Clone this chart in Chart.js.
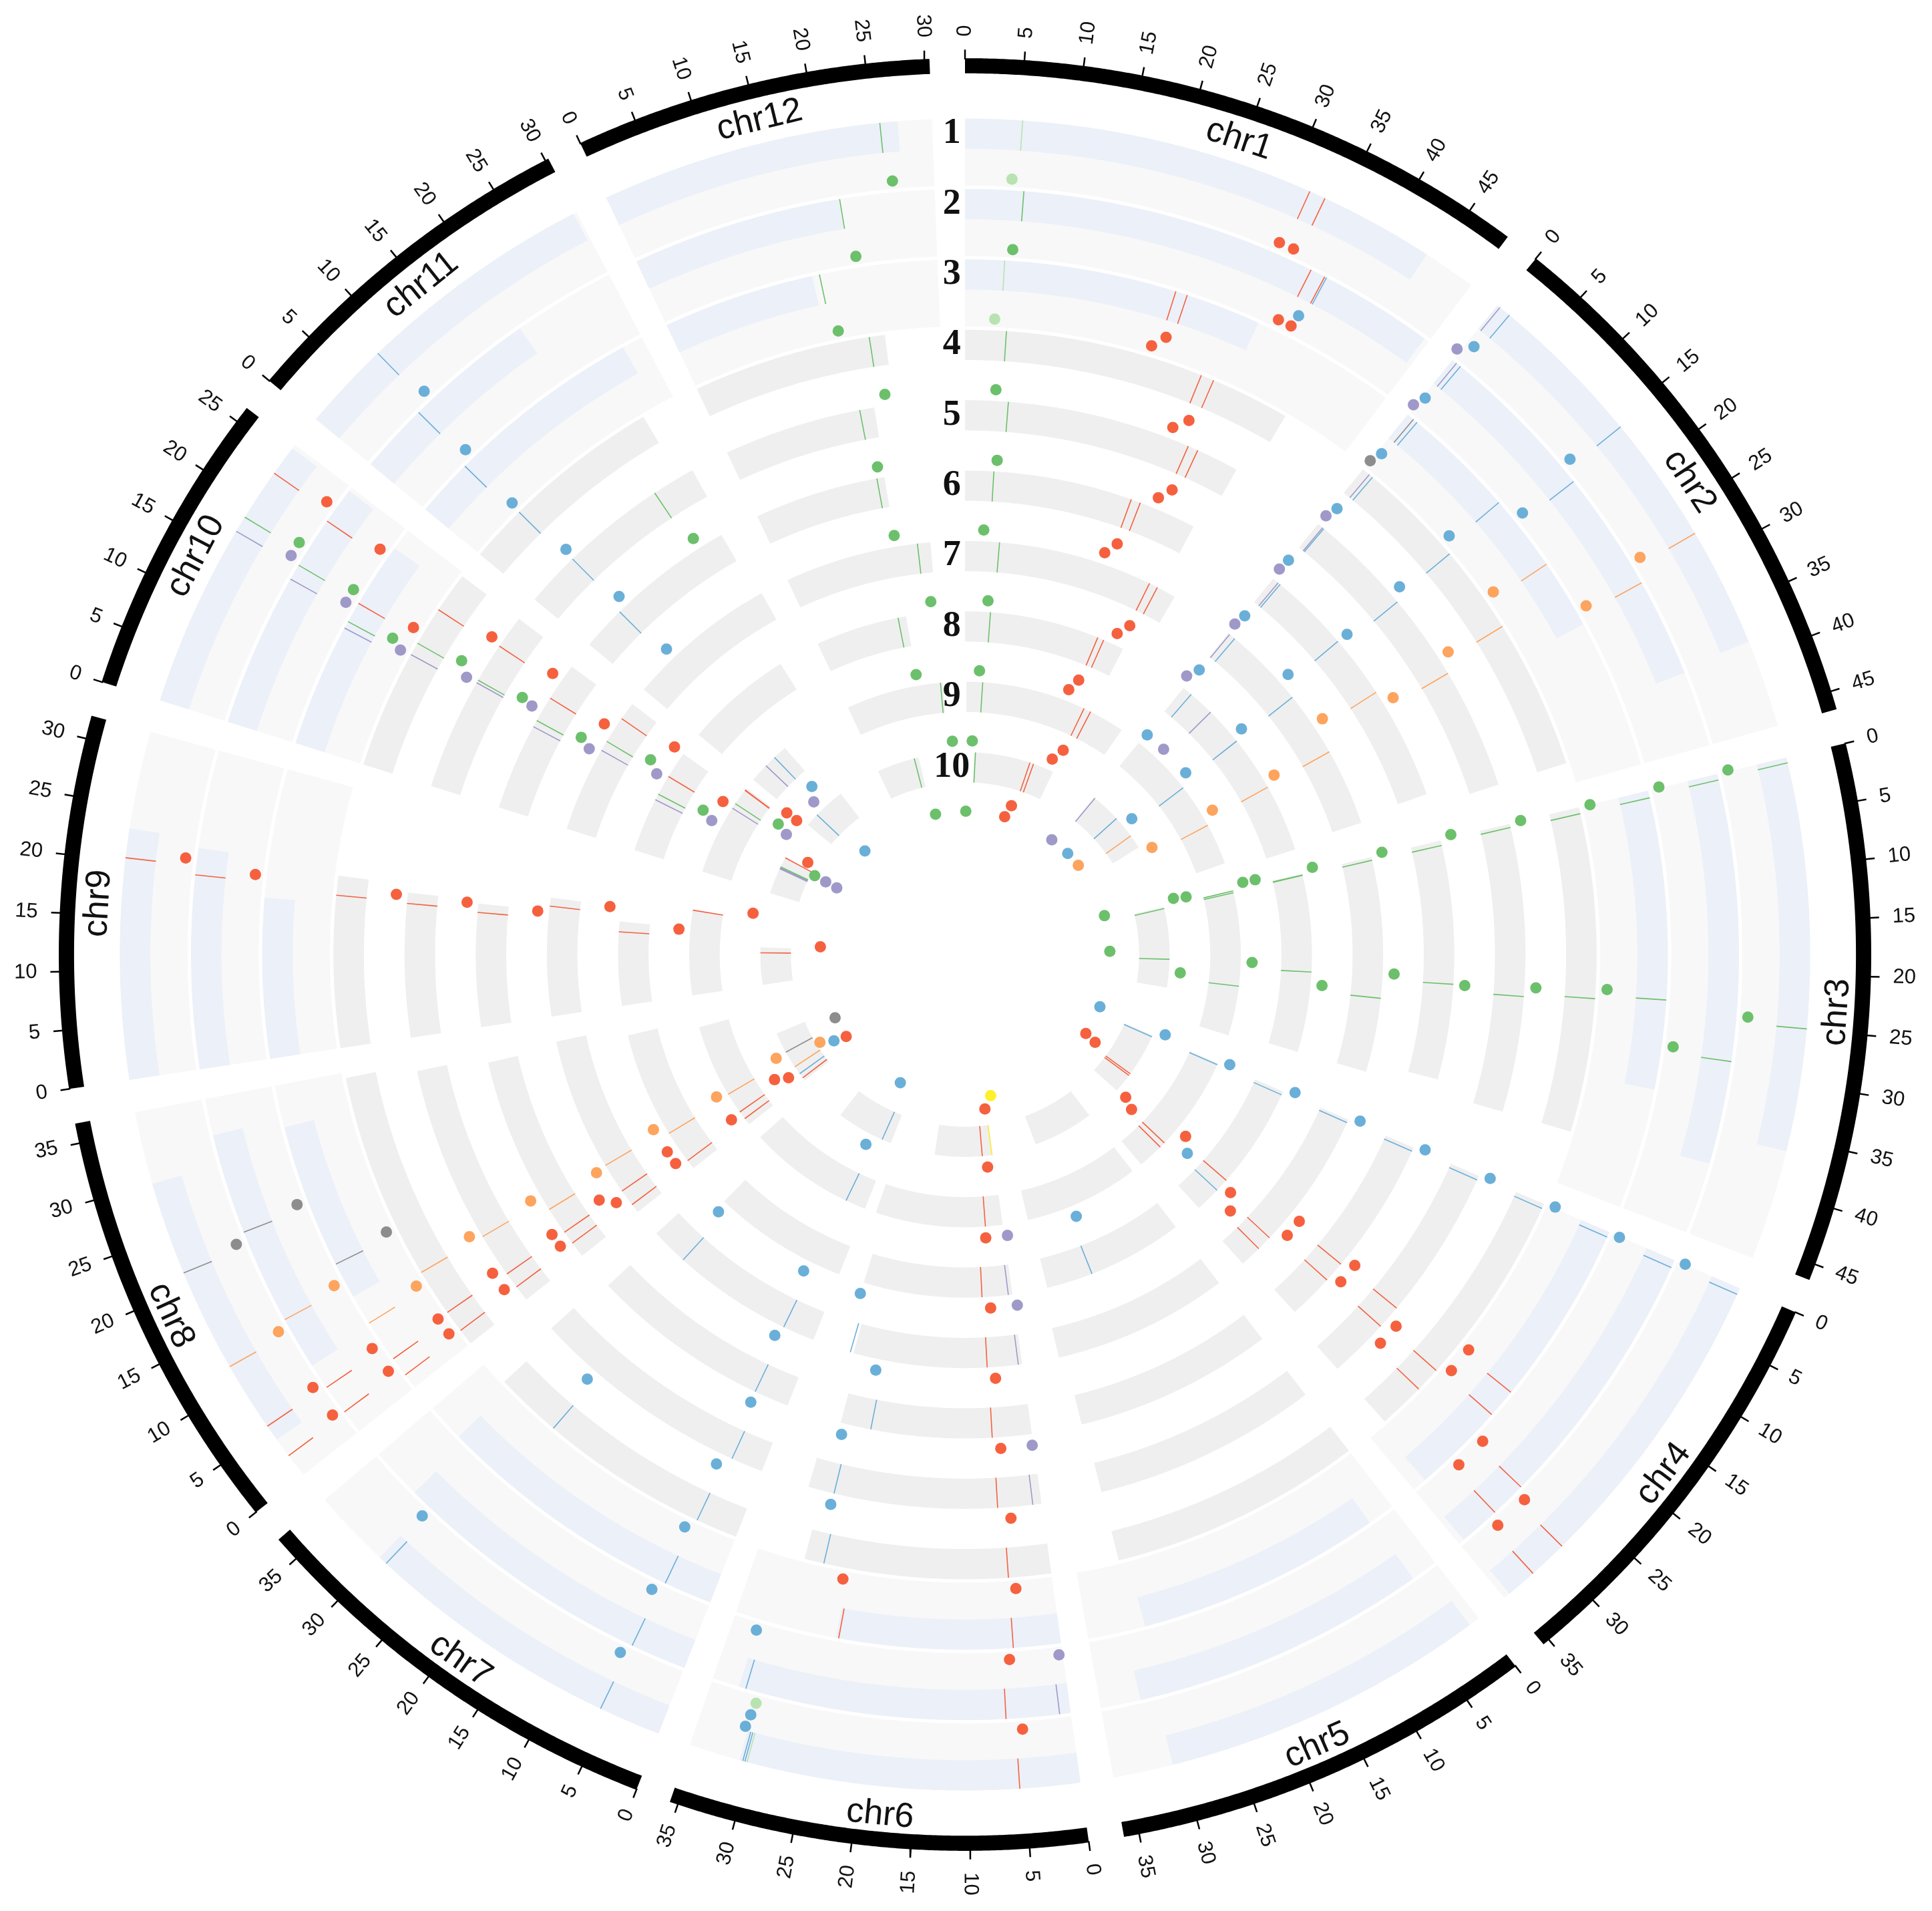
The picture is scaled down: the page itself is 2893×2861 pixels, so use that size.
<!DOCTYPE html>
<html>
<head>
<meta charset="utf-8">
<script src="https://cdn.jsdelivr.net/npm/chart.js@4.4.0/dist/chart.umd.min.js"></script>
<style>
  html, body { margin: 0; padding: 0; background: #ffffff; }
  canvas { display: block; }
</style>
</head>
<body>
<canvas id="circos" width="2893" height="2861"></canvas>
<script>
// ---- Data ----
const chromNames = ['chr1','chr2','chr3','chr4','chr5','chr6','chr7','chr8','chr9','chr10','chr11','chr12'];
const chromLengths = [48.9, 46.6, 46.4, 35.6, 36.3, 35.7, 37.2, 36.7, 32.0, 26.4, 30.3, 30.4];
const trackLabels = ['1','2','3','4','5','6','7','8','9','10'];
const tickStep = 5;

// band extent [start, end] for tracks 1..10
const chr1Bands  = [[0,44],[0,48.4],[0,32.8],[0,40.5],[0,38.5],[0,37],[0,40],[0,36],[0.4,46],[3.5,33.9]];
const chr2Bands  = [[0,38.5],[0,39],[0,30],[0,44],[0,44],[0,42],[0,43],[0,44],[0,41.7],[0,25.3]];
const chr3Bands  = [[0,36.2],[0,39.2],[0,33],[0,40],[0,40],[0,38],[0,40],[0,40],[0,41],[0,30.6]];
const chr4Bands  = [[0,35],[0,35],[0,34],[0,33],[0,33],[0,32],[0,33],[0,32],[0,35.6],[0,24.8]];
const chr5Bands  = [[1,30.8],[2.7,32.3],[3,30],[0,31],[0,31],[0,31.4],[0,32.5],[0,31.5],[0,32.2],[0,22.9]];
const chr6Bands  = [[0,31],[0,33],[0,24.5],[0,30],[0,32],[0,30],[0,31],[0,33],[0,35.5],[0,21.8]];
const chr7Bands  = [[0,30],[0,32],[0,33],[0,34],[0,35],[0,34],[0,35],[0,30.2],[0,35.5],[0,21.6]];
const chr8Bands  = [[4,30],[8,33],[12,32],[0,36],[0,35],[0,34],[0,35],[0,33],[0,30.6],[0,20.6]];
const chr9Bands  = [[0,23],[0,22.1],[0,17.7],[0,21.1],[0,20],[0,19.5],[0,22],[0,18.8],[0,24],[0,14.2]];
const chr10Bands = [[0,26],[0,26],[0,24],[0,26],[0,26],[0,25],[0,26],[0,24],[0,26.4],[0,14.8]];
const chr11Bands = [[0,30],[0,20],[0,28],[0,26],[0,28],[0,27],[0,28],[0,24],[0,12.5],[0,17]];
const chr12Bands = [[0,27.3],[0,20.9],[0,16.7],[0,23.7],[0,21],[0,20.8],[0,27.1],[0,20.4],[0,27.2],[0,16.0]];

// markers: [track, position, colour key]
const chr1Marks = [
  [1,5.2,'LG'],[1,32.0,'R'],[1,33.5,'R'],
  [2,5.8,'G'],[2,35.3,'R'],[2,36.8,'R'],[2,37.0,'B'],
  [3,4.3,'LG'],[3,23.2,'R'],[3,24.5,'R'],
  [4,5.0,'G'],[4,29.2,'R'],[4,30.8,'R'],
  [5,5.9,'G'],[5,31.2,'R'],[5,32.6,'R'],
  [6,4.5,'G'],[6,26.4,'R'],[6,27.9,'R'],
  [7,6.3,'G'],[7,34.8,'R'],[7,36.4,'R'],
  [8,5.6,'G'],[8,29.9,'R'],[8,31.3,'R'],
  [9,4.9,'G'],[9,34.0,'R'],[9,36.0,'R'],
  [10,3.9,'G'],[10,24.6,'R'],[10,26.0,'R']
];
const chr2Marks = [
  [1,0.3,'P'],[1,1.4,'B'],[1,15.7,'B'],[1,27.5,'O'],
  [2,0.5,'P'],[2,1.0,'B'],[2,17.0,'B'],[2,29.1,'O'],
  [3,0.8,'K'],[3,1.3,'B'],[3,13.8,'B'],[3,22.3,'O'],
  [4,1.0,'P'],[4,1.5,'B'],[4,14.7,'B'],[4,25.6,'O'],
  [5,0.8,'P'],[5,1.0,'B'],[5,15.2,'B'],[5,27.2,'O'],
  [6,1.0,'P'],[6,1.4,'B'],[6,14.1,'B'],[6,24.1,'O'],
  [7,0.3,'P'],[7,1.5,'B'],[7,16.6,'B'],[7,28.7,'O'],
  [8,2.2,'B'],[8,8.0,'P'],[8,16.6,'B'],[8,28.9,'O'],
  [9,17.6,'B'],[9,30.1,'O'],
  [10,0.5,'P'],[10,11.6,'B'],[10,20.0,'O']
];
const chr3Marks = [
  [1,0.5,'G'],[1,24.9,'G'],
  [2,0.6,'G'],[2,28.8,'G'],
  [3,0.8,'G'],[3,23.1,'G'],
  [4,0.8,'G'],[4,23.5,'G'],
  [5,0.5,'G'],[5,23.9,'G'],
  [6,0.8,'G'],[6,22.8,'G'],
  [7,0.6,'G'],[7,26.2,'G'],
  [8,0.3,'G'],[8,0.4,'G'],[8,22.0,'G'],
  [9,0.2,'G'],[9,0.7,'G'],[9,27.0,'G'],
  [10,0.7,'G'],[10,19.9,'G']
];
const chr4Marks = [
  [1,0.6,'B'],[1,28.6,'R'],[1,32.2,'R'],
  [2,0.8,'B'],[2,27.3,'R'],[2,30.9,'R'],
  [3,0.6,'B'],[3,20.6,'R'],[3,23.8,'R'],
  [4,0.6,'B'],[4,24.2,'R'],[4,27.3,'R'],
  [5,0.6,'B'],[5,21.4,'R'],[5,24.7,'R'],
  [6,0.6,'B'],[6,21.6,'R'],[6,24.9,'R'],
  [7,0.6,'B'],[7,26.2,'R'],[7,29.0,'R'],
  [8,0.8,'B'],[8,23.4,'R'],[8,26.4,'B'],
  [9,0.4,'B'],[9,26.8,'R'],[9,28.4,'R'],
  [10,0.6,'B'],[10,16.7,'R'],[10,17.5,'R']
];
const chr5Marks = [
  [8,21.2,'B']
];
const chr6Marks = [
  [1,5.5,'R'],[1,30.3,'LG'],[1,30.5,'B'],[1,30.7,'B'],
  [2,1.1,'P'],[2,6.4,'R'],[2,32.3,'B'],
  [3,5.2,'R'],[3,24.2,'R'],
  [4,5.2,'R'],[4,27.6,'B'],
  [5,1.2,'P'],[5,6.0,'R'],[5,28.4,'B'],
  [6,6.2,'R'],[6,25.2,'B'],
  [7,0.7,'P'],[7,6.4,'R'],[7,31.6,'B'],
  [8,0.9,'P'],[8,6.7,'R'],
  [9,4.8,'R'],
  [10,0.4,'Y'],[10,4.0,'R']
];
const chr7Marks = [
  [1,5.7,'B'],[1,29.2,'B'],
  [2,5.6,'B'],
  [3,5.3,'B'],
  [4,5.1,'B'],[4,25.8,'B'],
  [5,4.4,'B'],
  [6,5.5,'B'],
  [7,5.9,'B'],[7,28.1,'B'],
  [9,5.7,'B'],
  [10,3.5,'B']
];
const chr8Marks = [
  [1,2.2,'R'],[1,5.5,'R'],[1,11.9,'O'],[1,21.4,'K'],
  [2,2.4,'R'],[2,5.4,'R'],[2,13.3,'O'],[2,22.9,'K'],
  [3,1.7,'R'],[3,3.9,'R'],[3,8.6,'O'],[3,16.0,'K'],
  [4,2.0,'R'],[4,4.7,'R'],[4,10.5,'O'],
  [5,2.2,'R'],[5,4.4,'R'],[5,10.5,'O'],
  [6,2.5,'R'],[6,4.6,'R'],[6,8.9,'O'],
  [7,1.7,'R'],[7,4.8,'R'],[7,10.4,'O'],
  [8,2.1,'R'],[8,9.4,'O'],
  [9,2.0,'R'],[9,4.3,'R'],[9,10.2,'O'],
  [10,1.3,'R'],[10,3.2,'B'],[10,6.4,'O'],[10,12.8,'K']
];
const chr9Marks = [
  [1,20.3,'R'],[2,19.4,'R'],[4,18.7,'R'],[5,18.5,'R'],[6,18.1,'R'],
  [7,20.4,'R'],[8,16.5,'R'],[9,23.9,'R'],[10,12.1,'R']
];
const chr10Marks = [
  [1,16.9,'P'],[1,18.4,'G'],[1,23.2,'R'],
  [2,15.5,'P'],[2,17.1,'G'],[2,22.3,'R'],
  [3,13.7,'P'],[3,14.5,'G'],[3,16.8,'R'],
  [4,14.6,'P'],[4,16.2,'G'],[4,21.0,'R'],
  [5,15.5,'P'],[5,15.9,'G'],[5,21.4,'R'],
  [6,13.8,'P'],[6,14.9,'G'],[6,19.0,'R'],
  [7,15.8,'P'],[7,17.7,'G'],[7,22.7,'R'],
  [8,12.1,'P'],[8,13.5,'G'],[8,18.0,'R'],
  [9,19.6,'P'],[9,21.1,'G'],[9,25.7,'R'],[9,25.8,'R'],
  [10,9.8,'P'],[10,10.2,'P'],[10,10.6,'G'],[10,14.4,'R']
];
const chr11Marks = [
  [1,8.2,'B'],[2,7.0,'B'],[3,6.4,'B'],[4,7.0,'B'],[5,7.6,'B'],[5,22.0,'G'],[6,7.0,'B'],
  [9,5.3,'P'],[9,8.6,'B'],[10,5.1,'B']
];
const chr12Marks = [
  [1,25.7,'G'],[2,21.0,'G'],[3,17.5,'G'],[4,21.8,'G'],[5,19.0,'G'],
  [6,19.6,'G'],[7,24.7,'G'],[8,18.6,'G'],[9,26.6,'G'],[10,14.3,'G']
];

const chromBands = [chr1Bands, chr2Bands, chr3Bands, chr4Bands, chr5Bands, chr6Bands,
                    chr7Bands, chr8Bands, chr9Bands, chr10Bands, chr11Bands, chr12Bands];
const chromMarks = [chr1Marks, chr2Marks, chr3Marks, chr4Marks, chr5Marks, chr6Marks,
                    chr7Marks, chr8Marks, chr9Marks, chr10Marks, chr11Marks, chr12Marks];

const markColors = {
  R: '#f5613f', G: '#6cc06b', LG: '#b8e3b0', B: '#6aafd8',
  P: '#9f99c9', O: '#fda45e', K: '#8d8d8d', Y: '#fff02e'
};

// ---- Geometry ----
const VIEW = 2893, CX = 1445, CY = 1445;
const GAP_DEG = 2.25;
const RING_OUTER = 1273, RING_STEP = 107.2, BAND_W = 46, BG_W = 102;
const IDEO_IN = 1342, IDEO_OUT = 1365;
const DOT_INSET = 90, DOT_SEP = 20, DOT_STEP = 19, DOT_SHIFT = 10;

const totalLen = chromLengths.reduce((a, b) => a + b, 0);
const degPerMb = (360 - GAP_DEG * chromLengths.length) / totalLen;
const chromStart = [];
let acc = 0;
chromLengths.forEach(l => { chromStart.push(acc); acc += l * degPerMb + GAP_DEG; });

function ang(ci, pos) { return (chromStart[ci] + pos * degPerMb) * Math.PI / 180; }
function polar(r, a) { return { x: CX + r * Math.sin(a), y: CY - r * Math.cos(a) }; }
function ringOuter(k) { return RING_OUTER - RING_STEP * (k - 1); }

// ---- Datasets ----
const lineData = {}, dotData = {};
Object.keys(markColors).forEach(k => { lineData[k] = []; dotData[k] = []; });

chromMarks.forEach((marks, ci) => {
  for (let k = 1; k <= 10; k++) {
    const list = marks.filter(m => m[0] === k).sort((a, b) => a[1] - b[1]);
    const placed = [];
    const base = ringOuter(k) - DOT_INSET;
    list.forEach(m => {
      const a = ang(ci, m[1]);
      const p0 = polar(ringOuter(k), a), p1 = polar(ringOuter(k) - BAND_W, a);
      lineData[m[2]].push(p0, p1, { x: p1.x, y: null });
      let level = 0;
      while (placed.some(p => p.level === level && Math.abs(p.a - a) * base < DOT_SEP)) level++;
      placed.push({ a, level });
      const r = base + level * DOT_STEP;
      const deg = (a * 180 / Math.PI) % 360;
      const da = (deg < 180 ? -1 : 1) * DOT_SHIFT / r;
      dotData[m[2]].push(polar(r, a + da));
    });
  }
});

const tickData = [];
chromLengths.forEach((len, ci) => {
  for (let v = 0; v <= len + 1e-6; v += tickStep) {
    const a = ang(ci, v);
    const p0 = polar(IDEO_OUT - 2, a), p1 = polar(IDEO_OUT + 13, a);
    tickData.push(p0, p1, { x: p1.x, y: null });
  }
});

const datasets = [];
Object.keys(markColors).forEach(k => {
  if (!dotData[k].length) return;
  datasets.push({
    data: dotData[k], order: 1, showLine: false,
    pointRadius: 8.5, pointBackgroundColor: markColors[k], pointBorderWidth: 0
  });
  datasets.push({
    data: lineData[k], order: 2, showLine: true, spanGaps: false,
    borderColor: markColors[k], borderWidth: 1.6, pointRadius: 0
  });
});
datasets.push({
  data: tickData, order: 3, showLine: true, spanGaps: false,
  borderColor: '#000000', borderWidth: 2.5, pointRadius: 0
});

// ---- Drawing plugin for arcs and text ----
function fillSector(chart, ci, p0, p1, r0, r1, color) {
  const ctx = chart.ctx, xs = chart.scales.x, ys = chart.scales.y;
  const a0 = ang(ci, p0), a1 = ang(ci, p1);
  const n = Math.max(2, Math.ceil((a1 - a0) / 0.003));
  ctx.beginPath();
  for (let i = 0; i <= n; i++) {
    const p = polar(r1, a0 + (a1 - a0) * i / n);
    ctx.lineTo(xs.getPixelForValue(p.x), ys.getPixelForValue(p.y));
  }
  for (let i = n; i >= 0; i--) {
    const p = polar(r0, a0 + (a1 - a0) * i / n);
    ctx.lineTo(xs.getPixelForValue(p.x), ys.getPixelForValue(p.y));
  }
  ctx.closePath();
  ctx.fillStyle = color;
  ctx.fill();
}

function drawText(chart, x, y, rot, text, font, align, baseline) {
  const ctx = chart.ctx;
  ctx.save();
  ctx.translate(chart.scales.x.getPixelForValue(x), chart.scales.y.getPixelForValue(y));
  ctx.rotate(rot);
  ctx.font = font;
  ctx.textAlign = align;
  ctx.textBaseline = baseline;
  ctx.fillStyle = '#111111';
  ctx.fillText(text, 0, 0);
  ctx.restore();
}

const circosPlugin = {
  id: 'circos',
  beforeDatasetsDraw(chart) {
    chromLengths.forEach((len, ci) => {
      for (let k = 1; k <= 10; k++) {
        const ro = ringOuter(k);
        const band = chromBands[ci][k - 1];
        if (k <= 3) {
          fillSector(chart, ci, 0, len, ro - BG_W, ro, '#f8f8f8');
          fillSector(chart, ci, band[0], band[1], ro - BAND_W, ro, '#ecf0f8');
        } else {
          fillSector(chart, ci, band[0], band[1], ro - BAND_W, ro, '#efefef');
        }
      }
      fillSector(chart, ci, 0, len, IDEO_IN, IDEO_OUT, '#000000');
    });
  },
  afterDatasetsDraw(chart) {
    chromLengths.forEach((len, ci) => {
      for (let v = 0; v <= len + 1e-6; v += tickStep) {
        const a = ang(ci, v);
        const deg = (a * 180 / Math.PI) % 360;
        const p = polar(1398, a);
        if (deg < 180) {
          drawText(chart, p.x, p.y, a - Math.PI / 2, String(v), '31px "Liberation Sans"', 'left', 'middle');
        } else {
          drawText(chart, p.x, p.y, a - 3 * Math.PI / 2, String(v), '31px "Liberation Sans"', 'right', 'middle');
        }
      }
      const am = ang(ci, len / 2);
      const dm = (am * 180 / Math.PI) % 360;
      const flip = dm > 90 && dm < 270;
      const p = polar(flip ? 1331 : 1293, am);
      drawText(chart, p.x, p.y, flip ? am + Math.PI : am, chromNames[ci], '52px "Liberation Sans"', 'center', 'alphabetic');
    });
    trackLabels.forEach((t, i) => {
      const r = ringOuter(i + 1) - BAND_W / 2;
      drawText(chart, 1425, CY - r, 0, t, 'bold 54px "Liberation Serif"', 'center', 'middle');
    });
  }
};

new Chart(document.getElementById('circos').getContext('2d'), {
  type: 'scatter',
  data: { datasets },
  options: {
    responsive: false,
    animation: false,
    devicePixelRatio: 1,
    events: [],
    layout: { padding: 0 },
    plugins: { legend: { display: false }, tooltip: { enabled: false } },
    scales: {
      x: { type: 'linear', min: 0, max: VIEW, display: false },
      y: { type: 'linear', min: 0, max: VIEW, reverse: true, display: false }
    }
  },
  plugins: [circosPlugin]
});
</script>
</body>
</html>
